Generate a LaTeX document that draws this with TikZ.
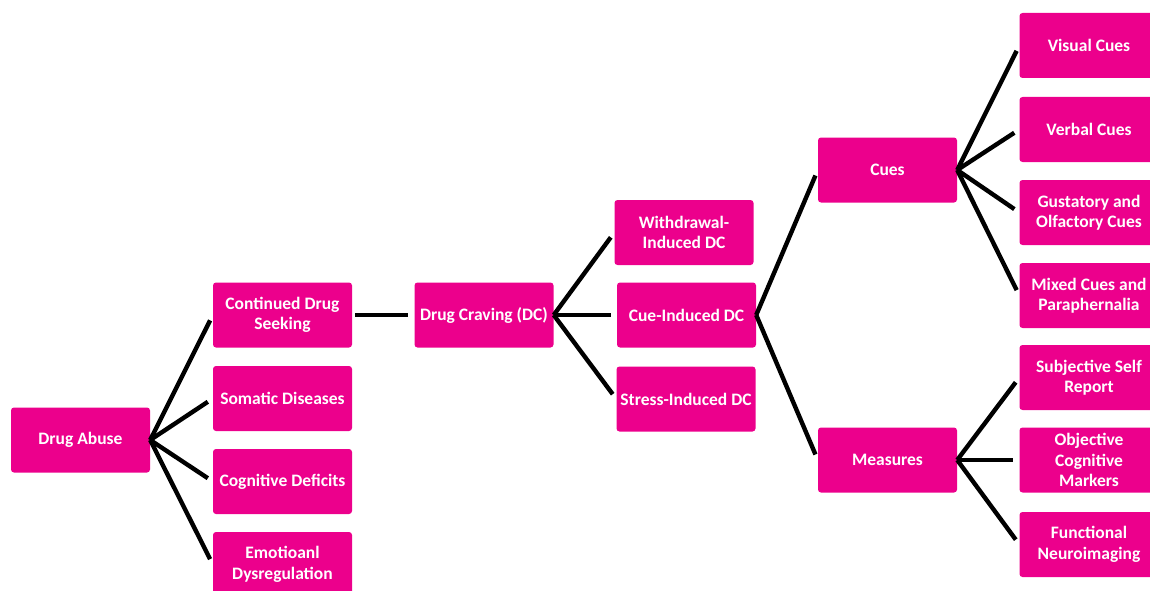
\documentclass[tikz,border=0pt]{standalone}
\usepackage{fontspec}
\setmainfont{Carlito}
\definecolor{boxpink}{HTML}{EC008C}
\begin{document}
\begin{tikzpicture}[x=1pt,y=-1pt,
  box/.style={draw=none,fill=boxpink,rounded corners=3pt,minimum width=139pt,minimum height=65pt,
    inner sep=0pt,align=center,text=white,font=\fontsize{17.5}{20.5}\selectfont\bfseries},
  conn/.style={draw=black,line width=4.4pt,shorten >=6pt}]
\useasboundingbox (0,0) rectangle (1150,591);
\begin{scope}
\clip (0,0) rectangle (1150,591);
\node[box] (da) at (80.5,440) {Drug Abuse};
\node[box] (cds) at (282.5,315) {Continued Drug\\Seeking};
\node[box] (sd) at (282.5,398.5) {Somatic Diseases};
\node[box] (cog) at (282.5,481.5) {Cognitive Deficits};
\node[box] (emo) at (282.5,564.5) {Emotioanl\\Dysregulation};
\node[box] (dc) at (484,315) {Drug Craving (DC)};
\node[box] (wd) at (684,232.5) {Withdrawal-\\Induced DC};
\node[box] (ci) at (686.5,315) {Cue-Induced DC};
\node[box] (si) at (686,399) {Stress-Induced DC};
\node[box] (cues) at (887.5,170) {Cues};
\node[box] (meas) at (887.5,460) {Measures};
\node[box] (vc) at (1089,45.5) {Visual Cues};
\node[box] (vb) at (1089,129.5) {Verbal Cues};
\node[box] (go) at (1089,212.5) {Gustatory and\\Olfactory Cues};
\node[box] (mx) at (1089,295.5) {Mixed Cues and\\Paraphernalia};
\node[box] (ss) at (1089,377.5) {Subjective Self\\Report};
\node[box] (oc) at (1089,460) {Objective\\Cognitive\\Markers};
\node[box] (fn) at (1089,544.5) {Functional\\Neuroimaging};
\end{scope}
\foreach \t in {cds,sd,cog,emo} \draw[conn] (da.east) -- (\t.west);
\draw[conn,shorten <=3pt] (cds.east) -- (dc.west);
\foreach \t in {wd,ci,si} \draw[conn] (dc.east) -- (\t.west);
\foreach \t in {cues,meas} \draw[conn] (ci.east) -- (\t.west);
\foreach \t in {vc,vb,go,mx} \draw[conn] (cues.east) -- (\t.west);
\foreach \t in {ss,oc,fn} \draw[conn] (meas.east) -- (\t.west);
\end{tikzpicture}
\end{document}
